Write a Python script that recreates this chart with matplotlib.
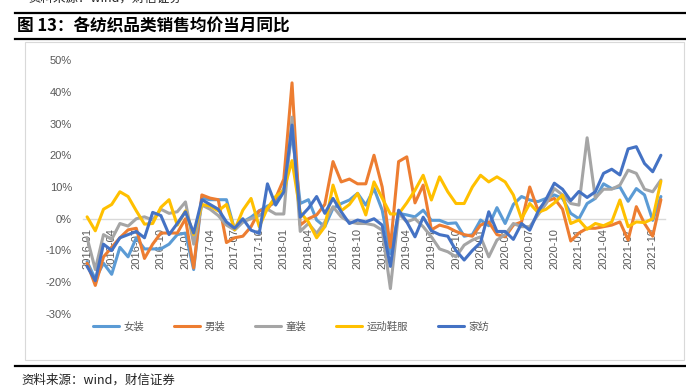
import matplotlib
matplotlib.use("Agg")
import matplotlib.pyplot as plt
from matplotlib.patches import Rectangle
from matplotlib.lines import Line2D
import pandas as pd

plt.rcParams['font.family'] = ['Liberation Sans', 'Noto Sans CJK SC']

# 2016-01 .. 2021-11, monthly
months = pd.date_range('2016-01', periods=71, freq='MS').strftime('%Y-%m').tolist()

women = [-13.5, -19, -14, -17.5, -9, -12, -6, -9.5, -9.5, -9.5, -8, -5, -4.5, -16, 6.5, 6, 6, 6,
         -3.5, -1, 0.5, 2.5, 4, 5, 9.5, 27, 4.8, 6, -0.4, -2.5, 3.3, 4.8, 5.9, 8, 4.3, 9.5, 2.7,
         -11, 1.7, 1.2, 0.6, 2.7, -0.5, -0.5, -1.5, -1.3, -5.5, -5, -0.4, -2.2, 3.5, -1.5, 4.5,
         7, 5.9, 5.4, 6.4, 7.5, 6.4, 1.7, 0, 4.8, 6.4, 11, 9.5, 10, 5.5, 9.5, 7.5, -0.5, 7]
men = [-14, -21, -12, -9, -6, -3.5, -3, -12.5, -8, -4.5, -4.5, -4.5, 0, -15.5, 7.5, 6.5, 6, -7.5,
       -6, -5.5, -2.5, 2.5, 3, 6.5, 12.5, 42.8, -2, 0, 1.2, 4.5, 18, 11.6, 12.5, 11, 11, 20, 10,
       -9, 18, 19.5, 5, 10.6, -3.5, -2, -2.7, -4, -5, -5.5, -2, -1, -5, -5.7, -2, -1, 10, 2.7,
       5.4, 6.4, 3, -7, -4.5, -3, -3, -2.5, -2, -1, -6.7, 3.8, -1.5, -5.5, 6]
kids = [-6, -16, -5, -6.5, -1.5, -2.3, 0, 0.6, -0.4, 3, 1.7, 2.2, 5.3, -8, 4.3, 3, 1, -2, -3.5,
        -1, 0, 1, 3, 1.5, 1.5, 32, -4, -1.5, -4.6, -1, 3.8, 0.6, -1, -1.5, -1.5, -2, -3.6, -22,
        1.7, -1, 0, -2.5, -5.7, -9.5, -10.4, -12, -8.3, -6.7, -5.7, -12, -6.7, -5, -1.5, -2.5,
        -2.5, 1.2, 4.8, 9.5, 7.5, 4.8, 4.3, 25.5, 6.5, 9.3, 9.3, 10.6, 15.3, 14.3, 9.3, 8.5, 12.2]
sports = [0.6, -3.8, 3, 4.5, 8.5, 7, 2.5, -1.7, -1.5, 3.6, 6, -2, 2.5, -5, 4.5, 4, 2.5, 4.5, -3.5,
          2.7, 6.4, -2.5, 3.3, 7, 9, 18.3, 2, -1, -6, -2.5, 10.6, 2.5, 4.5, 8, 1.2, 11.6, 6.5, 1.5,
          1.5, 5, 9, 13.7, 5.9, 13.2, 8.5, 4.8, 4.8, 10, 13.7, 11.6, 13.2, 11.6, 7.5, 0, 4.8, 2,
          3, 5, 7.5, -1.5, -0.4, -3.3, -1.5, -2.2, -1, 5.9, -2.5, -1, -1.2, 0, 11.8]
home = [-15, -19.5, -8, -10, -6, -5, -4, -6, 2, 1, -5, -1.5, 2.2, -4.5, 6, 4.5, 3, -1, -3, 0,
        -3.6, -4.6, 11, 4.3, 8.5, 29.5, 0.5, 3.3, 7, 1.7, 6.4, 2.2, -1.5, -0.4, -1, 0, -2, -15,
        2.7, -1, -5.7, 0.5, -3.8, -5, -5.5, -10, -13, -10, -7.5, 2.2, -4, -4, -6.5, -1.5, -3.6,
        2.2, 6.2, 11.2, 9.3, 5.7, 8.6, 6.7, 8.5, 14.3, 15.6, 13.8, 22, 22.7, 17.4, 14.8, 20]

names = ['女装', '男装', '童装', '运动鞋服', '家纺']
colors = ['#5B9BD5', '#ED7D31', '#A5A5A5', '#FFC000', '#4472C4']
series = [women, men, kids, sports, home]

W, H = 686, 386
fig = plt.figure(figsize=(W / 100, H / 100), dpi=100)

# outer chart frame
fig.patches.append(Rectangle((25 / W, 1 - 360 / H), 659 / W, 318 / H, transform=fig.transFigure,
                             fill=False, edgecolor='#D9D9D9', linewidth=0.8))
# report rules
for yy, lw in [(13, 1.6), (39, 1.6), (366, 1.6)]:
    fig.add_artist(Line2D([15 / W, 1.0], [1 - yy / H] * 2, color='black', linewidth=lw))

fig.text(28 / W, 1 + 2 / H, '资料来源：wind，财信证券', fontsize=9, style='italic',
         family=['Noto Sans CJK SC'], va='center', color='#222222')
fig.text(17 / W, 1 - 26 / H, '图 13：各纺织品类销售均价当月同比', fontsize=12,
         fontweight='bold', family=['Noto Sans CJK SC'], va='center', color='black')
fig.text(21 / W, 1 - 380 / H, '资料来源：wind，财信证券', fontsize=9, style='italic',
         family=['Noto Sans CJK SC'], va='center', color='#222222')

ax = fig.add_axes([83 / W, 1 - 314 / H, (665 - 83) / W, (314 - 60) / H])
for s in ['top', 'right', 'left']:
    ax.spines[s].set_visible(False)
ax.spines['bottom'].set_position(('data', 0))
ax.spines['bottom'].set_color('#D9D9D9')
ax.spines['bottom'].set_linewidth(1.0)
ax.spines['bottom'].set_zorder(0)

x = list(range(len(months)))
for vals, name, c in zip(series, names, colors):
    ax.plot(x, vals, color=c, linewidth=2.2, label=name, solid_joinstyle='round',
            solid_capstyle='round')

ax.set_xlim(-0.5, len(months) - 0.5)
ax.set_ylim(-30, 50)
yt = list(range(-30, 51, 10))
ax.set_yticks(yt)
ax.set_yticklabels([f'{v}%' for v in yt])
ax.set_xticks(x[::3])
ax.set_xticklabels(months[::3])
ax.tick_params(axis='y', length=0, pad=8, labelsize=8, labelcolor='#595959')
ax.tick_params(axis='x', length=0, pad=7, labelsize=8, labelcolor='#595959', labelrotation=90)
ax.patch.set_alpha(0)

ax.legend(loc='center', bbox_to_anchor=(291 / W, 1 - 327 / H), bbox_transform=fig.transFigure,
          ncol=5, frameon=False, handlelength=2.5, handletextpad=0.4, columnspacing=2.9,
          prop={'family': ['Noto Sans CJK SC'], 'size': 7.5}, labelcolor='#595959')

fig.savefig('out.png', dpi=100)
